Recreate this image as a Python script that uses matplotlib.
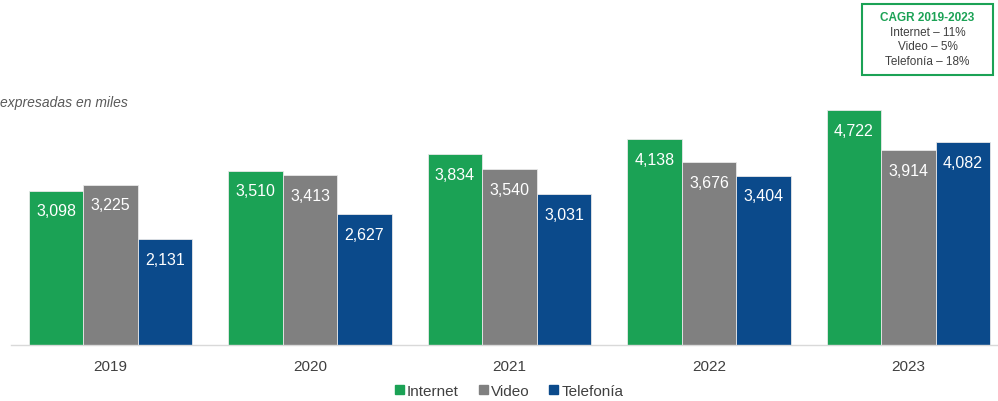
import matplotlib
matplotlib.use("Agg")
import matplotlib.pyplot as plt
import numpy as np
from matplotlib.patches import Rectangle

years = ["2019", "2020", "2021", "2022", "2023"]
internet = [3098, 3510, 3834, 4138, 4722]
video = [3225, 3413, 3540, 3676, 3914]
telefonia = [2131, 2627, 3031, 3404, 4082]
series_names = ["Internet", "Video", "Telefonía"]
colors = ["#1ba255", "#808080", "#0b4a8b"]
cagr_title = "CAGR 2019-2023"
cagr_lines = ["Internet – 11%", "Video – 5%", "Telefonía – 18%"]

plt.rcParams['font.family'] = ['Liberation Sans', 'DejaVu Sans']

W, H = 998, 402
fig = plt.figure(figsize=(W/100, H/100), dpi=100)

# axes geometry in pixels
ax_left, ax_right = 11, 998
base_y = 346
top_y = 96
ax = fig.add_axes([ax_left/W, (H-base_y)/H, (ax_right-ax_left)/W, (base_y-top_y)/H])
ppu = 154/3098  # pixels per unit
ax.set_ylim(0, (base_y-top_y)/ppu)
spacing = 199.5
x0_px = 110.5
left_units = (x0_px - ax_left)/spacing
ax.set_xlim(-left_units, -left_units + (ax_right-ax_left)/spacing)

x = np.arange(len(years))
bw = 54.5/spacing
data = [internet, video, telefonia]
for i, (vals, c, name) in enumerate(zip(data, colors, series_names)):
    pos = x + (i-1)*bw
    ax.bar(pos, vals, width=bw, color=c, edgecolor="#e8e8e8", linewidth=0.6, label=name)
    for p, v in zip(pos, vals):
        ax.annotate(f"{v:,}", xy=(p, v), xytext=(0, -20), textcoords="offset pixels",
                    ha="center", va="center", color="white", fontsize=11.5)

for s in ["top", "right", "left"]:
    ax.spines[s].set_visible(False)
ax.spines["bottom"].set_color("#d9d9d9")
ax.spines["bottom"].set_linewidth(1)
ax.set_yticks([])
ax.set_xticks(x)
ax.set_xticklabels(years, fontsize=11, color="#404040")
ax.tick_params(axis="x", length=0, pad=10)

# subtitle
fig.text(0/W, 1-103/H, "expresadas en miles", fontsize=10, style="italic", color="#595959",
         ha="left", va="center")

# legend
handles = [Rectangle((0, 0), 1, 1, color=c) for c in colors]
fig.legend(handles, series_names, loc="center", bbox_to_anchor=(509/W, 1-392/H), ncol=3,
           frameon=False, fontsize=11, handlelength=0.6, handleheight=0.6, handletextpad=0.2,
           columnspacing=1.3, labelcolor="#404040")

# CAGR box
bx0, by0, bx1, by1 = 862, 5, 993, 76
fig.patches.append(Rectangle((bx0/W, 1-by1/H), (bx1-bx0)/W, (by1-by0)/H, transform=fig.transFigure,
                             fill=False, edgecolor="#1ba255", linewidth=1.5))
cx = (bx0+bx1)/2/W
fig.text(cx, 1-18/H, cagr_title, ha="center", va="center", fontsize=8.5, fontweight="bold", color="#1ba255")
for k, line in enumerate(cagr_lines):
    fig.text(cx, 1-(33+14.5*k)/H, line, ha="center", va="center", fontsize=8.5, color="#404040")

fig.savefig("out.png", dpi=100)
